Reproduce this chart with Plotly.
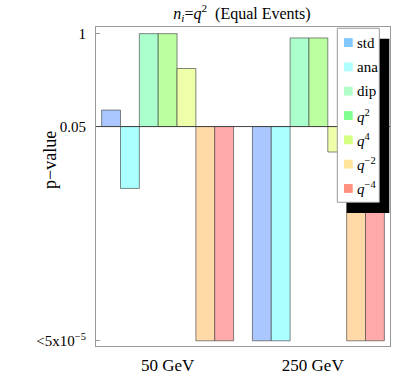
import numpy as np
import plotly.graph_objects as go

# Datos
grupos = ["50 GeV", "250 GeV"]
series = ["std", "ana", "dip", "q2", "q4", "q-2", "q-4"]
etiquetas = ["std", "ana", "dip",
             "<i>q</i><sup>2</sup>", "<i>q</i><sup>4</sup>",
             "<i>q</i><sup>\u22122</sup>", "<i>q</i><sup>\u22124</sup>"]
p_50 = [0.085, 0.0068, 1.0, 1.0, 0.325, 5e-5, 5e-5]
p_250 = [5e-5, 5e-5, 0.87, 0.87, 0.022, 5e-5, 5e-5]
base_p = 0.05
piso_p = 5e-5

colores_barra = ["#aac8ff", "#aaffff", "#aaffcc", "#bbffa0", "#eeffaa", "#ffd9a8", "#ffaaaa"]
colores_leyenda = ["#80c8ff", "#b0ffff", "#b0ffc8", "#80ff90", "#d4ff80", "#ffe49c", "#ff9080"]

FUENTE = "Liberation Serif"

# Area del grafico en pixeles (para la leyenda dibujada a mano)
L, R, T, B = 96, 390, 27, 351


def px(x):
    return (x - L) / (R - L)


def py(y):
    return (B - y) / (B - T)


fig = go.Figure()

n = len(series)
for i, s in enumerate(series):
    valores = [p_50[i], p_250[i]]
    fig.add_trace(go.Bar(
        x=[g * (n + 1) + i for g in range(len(grupos))],
        y=[v - base_p for v in valores],
        base=base_p,
        width=1,
        name=s,
        marker=dict(color=colores_barra[i],
                    line=dict(color="rgba(70,70,70,0.65)", width=1)),
        showlegend=False,
    ))

shapes = [
    # linea base en p = 0.05
    dict(type="line", xref="paper", yref="y", x0=0, x1=1, y0=base_p, y1=base_p,
         line=dict(color="#444444", width=1), layer="above"),
    # sombra de la leyenda
    dict(type="rect", xref="paper", yref="paper",
         x0=px(346.7), x1=px(389.3), y0=py(216), y1=py(39),
         fillcolor="black", line=dict(width=0), layer="above"),
    # caja de la leyenda
    dict(type="rect", xref="paper", yref="paper",
         x0=px(337.3), x1=px(379.3), y0=py(205), y1=py(28.3),
         fillcolor="white", line=dict(color="#999999", width=1), layer="above"),
]

anotaciones = []
for i, et in enumerate(etiquetas):
    yc = 42.8 + 24.7 * i
    shapes.append(dict(type="rect", xref="paper", yref="paper",
                       x0=px(344), x1=px(352.7), y0=py(yc + 4.5), y1=py(yc - 4.5),
                       fillcolor=colores_leyenda[i], line=dict(width=0), layer="above"))
    anotaciones.append(dict(text=et, xref="paper", yref="paper",
                            x=px(354.5), y=py(yc), xanchor="left", yanchor="middle",
                            showarrow=False, font=dict(family=FUENTE, size=15, color="black")))

anotaciones.append(dict(text="p\u2212value", xref="paper", yref="paper",
                        x=px(50), y=py(162), textangle=-90,
                        xanchor="center", yanchor="middle", showarrow=False,
                        font=dict(family=FUENTE, size=18, color="black")))

fig.update_layout(
    width=415, height=387,
    margin=dict(l=L, r=415 - R, t=T, b=387 - B),
    paper_bgcolor="white", plot_bgcolor="white",
    barmode="overlay",
    title=dict(text="<i>n<sub>i</sub></i>=<i>q</i><sup>2</sup>  (Equal Events)",
               xref="paper", x=px(242), xanchor="center",
               yref="container", y=1 - 13 / 387, yanchor="middle",
               font=dict(family=FUENTE, size=16, color="black")),
    font=dict(family=FUENTE, size=15, color="black"),
    shapes=shapes,
    annotations=anotaciones,
    xaxis=dict(range=[-0.8, 14.8], tickvals=[3, 10.7], ticktext=grupos,
               ticks="", showgrid=False, zeroline=False,
               showline=True, mirror=True, linecolor="#999999", linewidth=1,
               ticklabelstandoff=4,
               tickfont=dict(family=FUENTE, size=17)),
    yaxis=dict(type="log", range=[np.log10(piso_p) - 0.073, 0.093],
               tickvals=[1, base_p, piso_p],
               ticktext=["1", "0.05", "<5x10<sup>\u22125</sup>"],
               ticks="inside", ticklen=4, tickcolor="#999999",
               ticklabelstandoff=6,
               showgrid=False, zeroline=False,
               showline=True, mirror=True, linecolor="#999999", linewidth=1,
               tickfont=dict(family=FUENTE, size=15)),
)

fig.write_html("out.html", config={"displayModeBar": False},
               post_script="document.body.style.margin='0';")
